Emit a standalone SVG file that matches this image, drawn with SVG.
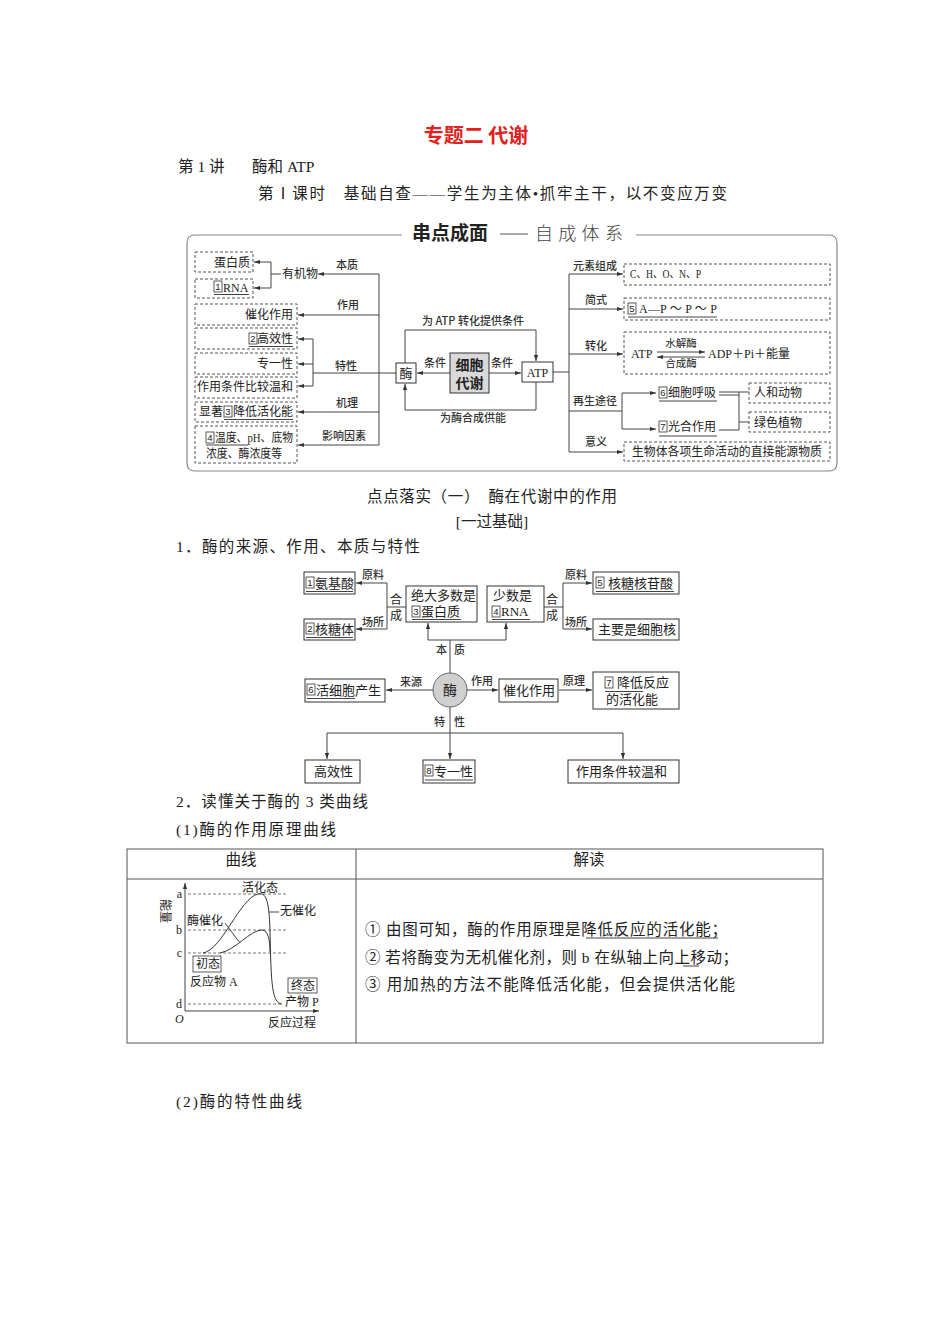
<svg xmlns="http://www.w3.org/2000/svg" width="950" height="1344" viewBox="0 0 950 1344">
<defs>
<style>
text{font-family:'Liberation Serif','Noto Sans CJK SC',serif;fill:#222}
.b{font-size:15.5px}
.m{font-size:12px}
.l{font-size:11px;font-family:'Noto Sans CJK SC',sans-serif;fill:#333;font-weight:500}
.e{font-size:13px}
.n{font-size:9.5px;text-anchor:middle;font-family:'Liberation Sans',sans-serif}
.nb{fill:none;stroke:#333;stroke-width:0.8}
.ln{fill:none;stroke:#444;stroke-width:1}
.ar{fill:none;stroke:#444;stroke-width:1;marker-end:url(#ah)}
.db{fill:none;stroke:#555;stroke-width:1;stroke-dasharray:3,2}
.sb{fill:#fff;stroke:#333;stroke-width:1}
.ul{stroke:#444;stroke-width:1}
.dl{stroke:#666;stroke-width:0.9;stroke-dasharray:3,2}
</style>
<marker id="ah" viewBox="0 0 6 6" markerWidth="6" markerHeight="6" refX="6" refY="3" orient="auto" markerUnits="userSpaceOnUse">
<path d="M0,0.9 L6,3 L0,5.1 Z" fill="#333"/>
</marker>
</defs>
<rect width="950" height="1344" fill="#fff"/>

<g id="header">
<text x="476" y="143" text-anchor="middle" font-size="20" font-weight="bold" style="fill:#e3201b;font-family:'Noto Sans CJK SC',sans-serif">专题二 代谢</text>
<text x="178" y="172" class="b">第 1 讲</text>
<text x="252" y="172" class="b">酶和 ATP</text>
<text x="258" y="199" class="b" textLength="469" lengthAdjust="spacing">第Ⅰ课时　基础自查——学生为主体•抓牢主干，以不变应万变</text>
</g>

<g id="concept-map-frame">
<path d="M402,235 H195 Q187,235 187,243 V463 Q187,471 195,471 H829 Q837,471 837,463 V243 Q837,235 829,235 H636" fill="none" stroke="#888" stroke-width="1.2"/>
<text x="412" y="240" font-size="19" font-weight="bold" style="font-family:'Noto Sans CJK SC',sans-serif">串点成面</text>
<line x1="500" y1="234" x2="528" y2="234" stroke="#555" stroke-width="1"/>
<text x="535" y="240" font-size="18" letter-spacing="5.3" style="fill:#444;font-family:'Noto Sans CJK SC',sans-serif;font-weight:300">自成体系</text>
</g>

<g id="cm-connectors">
<path class="ln" d="M379,274 V445"/>
<path class="ar" d="M379,274 H318"/>
<path class="ln" d="M281,274 H271 M271,262 V288"/>
<path class="ar" d="M271,262 H254"/>
<path class="ar" d="M271,288 H254"/>
<path class="ar" d="M379,315 H298"/>
<path class="ln" d="M396,373 H313 M313,339 V386"/>
<path class="ar" d="M313,339 H298"/>
<path class="ar" d="M313,364 H298"/>
<path class="ar" d="M313,386 H298"/>
<path class="ar" d="M379,412 H298"/>
<path class="ar" d="M379,445 H298"/>
<path class="ar" d="M450,373 H417"/>
<path class="ar" d="M489,373 H521"/>
<path class="ar" d="M405,363 V330 H536 V361"/>
<path class="ar" d="M536,382 V410 H405 V384"/>
<path class="ln" d="M553,372 H569 M569,274 V452"/>
<path class="ar" d="M569,274 H623"/>
<path class="ar" d="M569,309 H623"/>
<path class="ar" d="M569,354 H623"/>
<path class="ar" d="M569,452 H623"/>
<path class="ln" d="M569,411 H622 M622,393 V429"/>
<path class="ar" d="M622,393 H656"/>
<path class="ar" d="M622,429 H656"/>
<path class="ar" d="M657,352 H705"/>
<path class="ar" d="M705,357 H657"/>
<path class="ln" d="M719,392 H749 M719,395 H739 M739,392 V430 M719,430 H739 M739,422 H749"/>
<text x="336" y="269" class="l">本质</text>
<text x="337" y="309" class="l">作用</text>
<text x="335" y="370" class="l">特性</text>
<text x="336" y="407" class="l">机理</text>
<text x="322" y="440" class="l">影响因素</text>
<text x="473" y="325" class="l" text-anchor="middle">为 ATP 转化提供条件</text>
<text x="473" y="422" class="l" text-anchor="middle">为酶合成供能</text>
<text x="424" y="367" class="l">条件</text>
<text x="491" y="367" class="l">条件</text>
<text x="573" y="270" class="l">元素组成</text>
<text x="585" y="304" class="l">简式</text>
<text x="585" y="350" class="l">转化</text>
<text x="573" y="405" class="l">再生途径</text>
<text x="585" y="446" class="l">意义</text>
</g>

<g id="cm-protein">
<rect class="db" x="195" y="252" width="58" height="20"/>
<text x="250" y="267" class="m" text-anchor="end">蛋白质</text>
</g>
<g id="cm-rna">
<rect class="db" x="195" y="279" width="58" height="19"/>
<rect class="nb" x="214" y="281" width="8" height="11"/><text x="218" y="290" class="n">1</text>
<text x="223" y="292" class="m">RNA</text>
<line class="ul" x1="214" y1="294.5" x2="249" y2="294.5"/>
</g>
<g id="cm-organic"><text x="282" y="278" class="m">有机物</text></g>
<g id="cm-catalysis">
<rect class="db" x="195" y="304" width="102" height="21"/>
<text x="293" y="319" class="m" text-anchor="end">催化作用</text>
</g>
<g id="cm-efficient">
<rect class="db" x="195" y="328" width="102" height="21"/>
<rect class="nb" x="249" y="333" width="8" height="11"/><text x="253" y="342" class="n">2</text>
<text x="293" y="343" class="m" text-anchor="end">高效性</text>
<line class="ul" x1="249" y1="346.5" x2="293" y2="346.5"/>
</g>
<g id="cm-specific">
<rect class="db" x="195" y="353" width="102" height="21"/>
<text x="293" y="368" class="m" text-anchor="end">专一性</text>
</g>
<g id="cm-mild">
<rect class="db" x="195" y="377" width="102" height="21"/>
<text x="293" y="391" class="m" text-anchor="end">作用条件比较温和</text>
</g>
<g id="cm-lower">
<rect class="db" x="195" y="402" width="102" height="20"/>
<text x="199" y="416" class="m">显著</text>
<rect class="nb" x="224" y="406" width="8" height="11"/><text x="228" y="415" class="n">3</text>
<text x="293" y="416" class="m" text-anchor="end">降低活化能</text>
<line class="ul" x1="224" y1="419.5" x2="293" y2="419.5"/>
</g>
<g id="cm-factors">
<rect class="db" x="195" y="426" width="102" height="37"/>
<rect class="nb" x="206" y="432" width="8" height="11"/><text x="210" y="441" class="n">4</text>
<text x="215" y="442" class="m" textLength="78" lengthAdjust="spacingAndGlyphs">温度、pH、底物</text>
<line class="ul" x1="206" y1="445" x2="248" y2="445"/>
<text x="206" y="458" class="m" textLength="76" lengthAdjust="spacingAndGlyphs">浓度、酶浓度等</text>
</g>
<g id="cm-enzyme">
<rect class="sb" x="396" y="363" width="20" height="20"/>
<text x="406" y="378" font-size="13" text-anchor="middle">酶</text>
</g>
<g id="cm-metabolism">
<rect x="450" y="353" width="39" height="40" fill="#d9d9d9" stroke="#333" stroke-width="1"/>
<text x="469.5" y="370" font-size="14" text-anchor="middle" font-weight="bold" style="font-family:'Noto Sans CJK SC',sans-serif">细胞</text>
<text x="469.5" y="388" font-size="14" text-anchor="middle" font-weight="bold" style="font-family:'Noto Sans CJK SC',sans-serif">代谢</text>
</g>
<g id="cm-atp">
<rect class="sb" x="522" y="362" width="31" height="20"/>
<text x="537.5" y="377" class="m" text-anchor="middle">ATP</text>
</g>
<g id="cm-elements">
<rect class="db" x="624" y="264" width="206" height="21"/>
<text x="630" y="278" class="m" textLength="71" lengthAdjust="spacingAndGlyphs">C、H、O、N、P</text>
</g>
<g id="cm-formula">
<rect class="db" x="624" y="298" width="206" height="22"/>
<rect class="nb" x="628" y="303" width="8" height="11"/><text x="632" y="312" class="n">5</text>
<text x="639" y="313" class="m" textLength="78" lengthAdjust="spacing">A—P ～ P ～ P</text>
<line class="ul" x1="628" y1="317" x2="717" y2="317"/>
</g>
<g id="cm-conversion">
<rect class="db" x="624" y="332" width="206" height="42"/>
<text x="631" y="358" class="m">ATP</text>
<text x="681" y="347" font-size="10.5" text-anchor="middle">水解酶</text>
<text x="681" y="367" font-size="10.5" text-anchor="middle">合成酶</text>
<text x="708" y="358" class="m">ADP＋Pi＋能量</text>
</g>
<g id="cm-respiration">
<rect class="nb" x="659" y="387" width="8" height="11"/><text x="663" y="396" class="n">6</text>
<text x="668" y="397" class="m">细胞呼吸</text>
<line class="ul" x1="659" y1="401" x2="717" y2="401"/>
</g>
<g id="cm-photosynthesis">
<rect class="nb" x="659" y="421" width="8" height="11"/><text x="663" y="430" class="n">7</text>
<text x="668" y="431" class="m">光合作用</text>
<line class="ul" x1="659" y1="436" x2="717" y2="436"/>
</g>
<g id="cm-animals">
<rect class="db" x="749" y="383" width="81" height="20"/>
<text x="754" y="397" class="m">人和动物</text>
</g>
<g id="cm-plants">
<rect class="db" x="749" y="412" width="81" height="20"/>
<text x="754" y="427" class="m">绿色植物</text>
</g>
<g id="cm-meaning">
<rect class="db" x="624" y="442" width="206" height="19"/>
<text x="632" y="456" class="m" textLength="190" lengthAdjust="spacingAndGlyphs">生物体各项生命活动的直接能源物质</text>
</g>

<g id="section-text">
<text x="367" y="502" class="b" textLength="250" lengthAdjust="spacing">点点落实（一）　酶在代谢中的作用</text>
<text x="492" y="527" class="b" text-anchor="middle">[一过基础]</text>
<text x="176" y="552" class="b" textLength="244" lengthAdjust="spacing">1．酶的来源、作用、本质与特性</text>
</g>

<g id="ez-connectors">
<path class="ln" d="M387,583 V629 M387,607 H406"/>
<path class="ar" d="M387,583 H356"/>
<path class="ar" d="M387,629 H356"/>
<path class="ln" d="M544,607 H563 M563,583 V629"/>
<path class="ar" d="M563,583 H592"/>
<path class="ar" d="M563,629 H592"/>
<path class="ln" d="M450,673 V640 M428,640 H506"/>
<path class="ar" d="M428,640 V623"/>
<path class="ar" d="M506,640 V623"/>
<path class="ar" d="M433,690 H386"/>
<path class="ar" d="M467,690 H498"/>
<path class="ar" d="M559,690 H592"/>
<path class="ar" d="M450,707 V759"/>
<path class="ln" d="M327,733 H623"/>
<path class="ar" d="M327,733 V759"/>
<path class="ar" d="M623,733 V759"/>
<text x="362" y="579" class="l">原料</text>
<text x="362" y="626" class="l">场所</text>
<text x="396" y="604" class="m" text-anchor="middle">合</text>
<text x="396" y="620" class="m" text-anchor="middle">成</text>
<text x="552" y="604" class="m" text-anchor="middle">合</text>
<text x="552" y="620" class="m" text-anchor="middle">成</text>
<text x="565" y="579" class="l">原料</text>
<text x="565" y="626" class="l">场所</text>
<text x="436" y="654" class="l">本</text>
<text x="454" y="654" class="l">质</text>
<text x="400" y="686" class="l">来源</text>
<text x="471" y="685" class="l">作用</text>
<text x="563" y="685" class="l">原理</text>
<text x="434" y="726" class="l">特</text>
<text x="454" y="726" class="l">性</text>
</g>

<g id="ez-amino">
<rect class="sb" x="304" y="572" width="51" height="22"/>
<rect class="nb" x="306" y="577" width="8" height="11"/><text x="310" y="586" class="n">1</text>
<text x="315" y="588" class="e">氨基酸</text>
<line class="ul" x1="306" y1="591.5" x2="353" y2="591.5"/>
</g>
<g id="ez-ribosome">
<rect class="sb" x="304" y="619" width="51" height="21"/>
<rect class="nb" x="306" y="623" width="8" height="11"/><text x="310" y="632" class="n">2</text>
<text x="315" y="634" class="e">核糖体</text>
<line class="ul" x1="306" y1="637.5" x2="353" y2="637.5"/>
</g>
<g id="ez-protein">
<rect class="sb" x="406" y="586" width="71" height="36"/>
<text x="411" y="600" class="e">绝大多数是</text>
<rect class="nb" x="412" y="606" width="8" height="11"/><text x="416" y="615" class="n">3</text>
<text x="421" y="616" class="e">蛋白质</text>
<line class="ul" x1="412" y1="619.5" x2="461" y2="619.5"/>
</g>
<g id="ez-rna">
<rect class="sb" x="487" y="586" width="57" height="36"/>
<text x="493" y="600" class="e">少数是</text>
<rect class="nb" x="492" y="606" width="8" height="11"/><text x="496" y="615" class="n">4</text>
<text x="501" y="616" class="e">RNA</text>
<line class="ul" x1="492" y1="619.5" x2="530" y2="619.5"/>
</g>
<g id="ez-nucleotide">
<rect class="sb" x="593" y="572" width="86" height="22"/>
<rect class="nb" x="596" y="577" width="8" height="11"/><text x="600" y="586" class="n">5</text>
<text x="608" y="588" class="e">核糖核苷酸</text>
<line class="ul" x1="596" y1="591.5" x2="674" y2="591.5"/>
</g>
<g id="ez-nucleus">
<rect class="sb" x="593" y="619" width="86" height="21"/>
<text x="598" y="634" class="e">主要是细胞核</text>
</g>
<g id="ez-enzyme">
<circle cx="450" cy="690" r="17" fill="#d0d0d0" stroke="#666" stroke-width="1"/>
<text x="450" y="695" font-size="14" text-anchor="middle">酶</text>
</g>
<g id="ez-source">
<rect class="sb" x="305" y="679" width="80" height="23"/>
<rect class="nb" x="307" y="684" width="8" height="11"/><text x="311" y="693" class="n">6</text>
<text x="316" y="695" class="e">活细胞产生</text>
<line class="ul" x1="307" y1="698.5" x2="355" y2="698.5"/>
</g>
<g id="ez-catalysis">
<rect class="sb" x="499" y="679" width="59" height="23"/>
<text x="503" y="695" class="e">催化作用</text>
</g>
<g id="ez-principle">
<rect class="sb" x="593" y="672" width="86" height="37"/>
<rect class="nb" x="605" y="677" width="8" height="11"/><text x="609" y="686" class="n">7</text>
<text x="617" y="687" class="e">降低反应</text>
<line class="ul" x1="605" y1="691.5" x2="643" y2="691.5"/>
<text x="606" y="704" class="e">的活化能</text>
</g>
<g id="ez-efficient">
<rect class="sb" x="305" y="760" width="55" height="23"/>
<text x="314" y="776" class="e">高效性</text>
</g>
<g id="ez-specific">
<rect class="sb" x="423" y="760" width="52" height="23"/>
<rect class="nb" x="425" y="765" width="8" height="11"/><text x="429" y="774" class="n">8</text>
<text x="434" y="776" class="e">专一性</text>
<line class="ul" x1="425" y1="780" x2="473" y2="780"/>
</g>
<g id="ez-mild">
<rect class="sb" x="568" y="760" width="111" height="23"/>
<text x="576" y="776" class="e">作用条件较温和</text>
</g>

<g id="section-2">
<text x="176" y="807" class="b" textLength="192" lengthAdjust="spacing">2．读懂关于酶的 3 类曲线</text>
<text x="176" y="835" class="b" textLength="160" lengthAdjust="spacing">(1)酶的作用原理曲线</text>
<text x="176" y="1107" class="b" textLength="126" lengthAdjust="spacing">(2)酶的特性曲线</text>
</g>

<g id="table">
<rect x="127" y="849" width="696" height="194" fill="none" stroke="#555" stroke-width="1"/>
<line x1="127" y1="879" x2="823" y2="879" stroke="#555" stroke-width="1"/>
<line x1="356" y1="849" x2="356" y2="1043" stroke="#555" stroke-width="1"/>
<text x="241" y="865" class="b" text-anchor="middle">曲线</text>
<text x="589" y="865" class="b" text-anchor="middle">解读</text>
<text x="365" y="935" class="b" textLength="362" lengthAdjust="spacing">① 由图可知，酶的作用原理是降低反应的活化能；</text>
<line class="ul" x1="586" y1="938" x2="718" y2="938"/>
<text x="365" y="963" class="b" textLength="373" lengthAdjust="spacing">② 若将酶变为无机催化剂，则 b 在纵轴上向上移动；</text>
<line class="ul" x1="683" y1="966" x2="699" y2="966"/>
<text x="365" y="990" class="b" textLength="370" lengthAdjust="spacing">③ 用加热的方法不能降低活化能，但会提供活化能</text>
</g>

<g id="curve-graph">
<path class="ar" d="M185,1011 V883"/>
<path class="ar" d="M185,1011 H319"/>
<line class="dl" x1="188" y1="894" x2="287" y2="894"/>
<line class="dl" x1="188" y1="930" x2="287" y2="930"/>
<line class="dl" x1="188" y1="953" x2="287" y2="953"/>
<line class="dl" x1="188" y1="1004" x2="282" y2="1004"/>
<path d="M203,953 C222,950 240,898 258,894 C266,892 269,900 270,930 C271,985 272,1003 282,1004" fill="none" stroke="#333" stroke-width="1"/>
<path d="M220,953 C236,950 250,930 262,930 C268,930 270,940 270,952" fill="none" stroke="#333" stroke-width="1"/>
<path class="ln" d="M269,912 H279 M225,923 L240,943"/>
<text x="182" y="898" class="m" text-anchor="end">a</text>
<text x="182" y="934" class="m" text-anchor="end">b</text>
<text x="182" y="957" class="m" text-anchor="end">c</text>
<text x="182" y="1008" class="m" text-anchor="end">d</text>
<text x="175" y="1023" class="m" font-style="italic">O</text>
<text transform="translate(161,899) rotate(90)" class="m">能量</text>
<text x="242" y="892" class="m">活化态</text>
<text x="280" y="915" class="m">无催化</text>
<text x="187" y="925" class="m">酶催化</text>
<rect class="nb" x="193" y="956" width="28" height="16"/>
<text x="196" y="968" class="m">初态</text>
<text x="190" y="986" class="m">反应物 A</text>
<rect class="nb" x="288" y="978" width="29" height="15"/>
<text x="291" y="990" class="m">终态</text>
<text x="285" y="1006" class="m">产物 P</text>
<text x="268" y="1027" class="m">反应过程</text>
</g>
</svg>
